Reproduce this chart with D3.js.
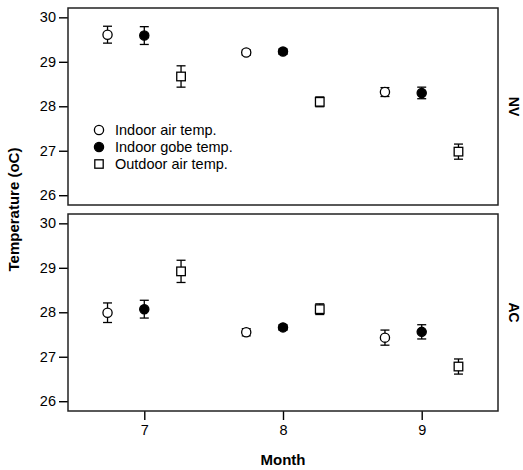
<!DOCTYPE html>
<html>
<head>
<meta charset="utf-8">
<script src="https://cdn.jsdelivr.net/npm/d3@7"></script>
<style>
  body { margin: 0; background: #fff; }
  text { font-family: "Liberation Sans", Arial, sans-serif; fill: #000; }
</style>
</head>
<body>
<div id="chart"></div>
<script>
// months on the x axis
var months = [7, 8, 9];
var yTicks = [26, 27, 28, 29, 30];
var panels = ["NV", "AC"];
var seriesNames = ["Indoor air temp.", "Indoor gobe temp.", "Outdoor air temp."];

// NV panel: means and error half-widths
var nvAirMean = [29.61, 29.21, 28.32];
var nvAirErr = [0.19, 0.06, 0.10];
var nvGlobeMean = [29.59, 29.23, 28.30];
var nvGlobeErr = [0.20, 0.06, 0.13];
var nvOutMean = [28.67, 28.10, 26.98];
var nvOutErr = [0.24, 0.11, 0.17];

// AC panel
var acAirMean = [27.99, 27.55, 27.43];
var acAirErr = [0.22, 0.08, 0.17];
var acGlobeMean = [28.07, 27.66, 27.56];
var acGlobeErr = [0.20, 0.06, 0.16];
var acOutMean = [28.92, 28.07, 26.78];
var acOutErr = [0.25, 0.12, 0.17];

var dodge = 0.265;

var width = 523, height = 470;
var left = 68, right = 498;
var panelBox = [{top: 8, bottom: 205}, {top: 214, bottom: 411}];

var svg = d3.select("#chart").append("svg")
    .attr("width", width)
    .attr("height", height);

var x = d3.scaleLinear().domain([6.45, 9.55]).range([left, right]);

function buildRows(air, airE, globe, globeE, out, outE) {
    var rows = [];
    for (var i = 0; i < months.length; i++) {
        rows.push({s: 0, x: months[i] - dodge, m: air[i], e: airE[i]});
        rows.push({s: 1, x: months[i], m: globe[i], e: globeE[i]});
        rows.push({s: 2, x: months[i] + dodge, m: out[i], e: outE[i]});
    }
    return rows;
}

var panelData = [
    buildRows(nvAirMean, nvAirErr, nvGlobeMean, nvGlobeErr, nvOutMean, nvOutErr),
    buildRows(acAirMean, acAirErr, acGlobeMean, acGlobeErr, acOutMean, acOutErr)
];

function drawMarker(g, s, cx, cy, r) {
    if (s === 2) {
        g.append("rect")
            .attr("x", cx - r).attr("y", cy - r)
            .attr("width", 2 * r).attr("height", 2 * r)
            .attr("fill", "#fff").attr("stroke", "#000").attr("stroke-width", 1.3);
    } else {
        g.append("circle")
            .attr("cx", cx).attr("cy", cy).attr("r", r)
            .attr("fill", s === 1 ? "#000" : "#fff")
            .attr("stroke", "#000").attr("stroke-width", 1.3);
    }
}

panels.forEach(function (name, p) {
    var box = panelBox[p];
    var y = d3.scaleLinear().domain([25.78, 30.21]).range([box.bottom, box.top]);
    var g = svg.append("g");

    // y axis
    var yAxis = d3.axisLeft(y).tickValues(yTicks).tickSize(9).tickPadding(3).tickFormat(d3.format("d"));
    var ya = g.append("g").attr("transform", "translate(" + left + ",0)").call(yAxis);
    ya.select(".domain").remove();
    ya.selectAll(".tick line").attr("stroke", "#000").attr("stroke-width", 1.4);
    ya.selectAll(".tick text").style("font-size", "14.5px").attr("fill", "#000");

    if (p === 1) {
        var xAxis = d3.axisBottom(x).tickValues(months).tickSize(9).tickPadding(5).tickFormat(d3.format("d"));
        var xa = g.append("g").attr("transform", "translate(0," + box.bottom + ")").call(xAxis);
        xa.select(".domain").remove();
        xa.selectAll(".tick line").attr("stroke", "#000").attr("stroke-width", 1.4);
        xa.selectAll(".tick text").style("font-size", "14.5px").attr("fill", "#000");
    }

    // frame
    g.append("rect")
        .attr("x", left).attr("y", box.top)
        .attr("width", right - left).attr("height", box.bottom - box.top)
        .attr("fill", "none").attr("stroke", "#222").attr("stroke-width", 1.5);

    // error bars
    var cap = 4.5;
    panelData[p].forEach(function (d) {
        var cx = x(d.x);
        var y0 = y(d.m + d.e), y1 = y(d.m - d.e);
        g.append("line").attr("x1", cx).attr("x2", cx).attr("y1", y0).attr("y2", y1)
            .attr("stroke", "#000").attr("stroke-width", 1.3);
        g.append("line").attr("x1", cx - cap).attr("x2", cx + cap).attr("y1", y0).attr("y2", y0)
            .attr("stroke", "#000").attr("stroke-width", 1.3);
        g.append("line").attr("x1", cx - cap).attr("x2", cx + cap).attr("y1", y1).attr("y2", y1)
            .attr("stroke", "#000").attr("stroke-width", 1.3);
        drawMarker(g, d.s, cx, y(d.m), d.s === 2 ? 4.3 : 4.6);
    });

    // panel label on the right
    g.append("text")
        .attr("transform", "translate(509," + (box.top + box.bottom) / 2 + ") rotate(90)")
        .attr("text-anchor", "middle")
        .style("font-size", "14px").style("font-weight", "bold")
        .text(name);
});

// legend
var legend = svg.append("g");
seriesNames.forEach(function (n, i) {
    var ly = 130 + i * 17;
    drawMarker(legend, i, 99, ly, i === 2 ? 4.2 : 4.6);
    legend.append("text")
        .attr("x", 115).attr("y", ly)
        .attr("dy", "0.35em")
        .style("font-size", "14.5px")
        .text(n);
});

// axis titles
svg.append("text")
    .attr("transform", "translate(19," + (panelBox[0].top + panelBox[1].bottom) / 2 + ") rotate(-90)")
    .attr("text-anchor", "middle")
    .style("font-size", "15px").style("font-weight", "bold")
    .text("Temperature (oC)");

svg.append("text")
    .attr("x", (left + right) / 2).attr("y", 465)
    .attr("text-anchor", "middle")
    .style("font-size", "15px").style("font-weight", "bold")
    .text("Month");
</script>
</body>
</html>
